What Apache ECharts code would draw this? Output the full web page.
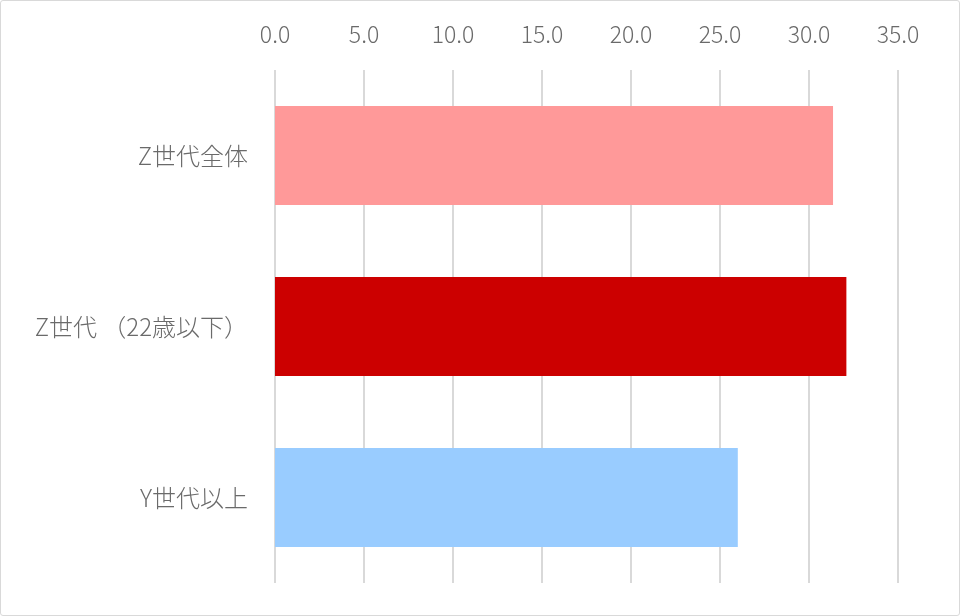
<!DOCTYPE html>
<html><head><meta charset="utf-8">
<script src="https://cdn.jsdelivr.net/npm/echarts@6/dist/echarts.min.js"></script>
<style>html,body{margin:0;padding:0;background:#fff}#c{width:960px;height:616px;box-sizing:border-box;border:1px solid #d9d9d9;border-radius:3px}</style>
</head><body><div id="c"></div>
<script>
const categories = ['Z世代全体', 'Z世代 （22歳以下）', 'Y世代以上'];
const values = [31.35, 32.1, 26.0];
const colors = ['#ff9999', '#cc0000', '#99ccff'];
const xTicks = [0, 35, 5];
const chart = echarts.init(document.getElementById('c'));
chart.setOption({
  animation: false,
  grid: {left: 274, right: 61, top: 69, bottom: 32},
  xAxis: {type: 'value', position: 'top', min: xTicks[0], max: xTicks[1], interval: xTicks[2],
    axisLine: {show: false}, axisTick: {show: false},
    splitLine: {lineStyle: {color: '#d9d9d9', width: 2}},
    axisLabel: {formatter: v => v.toFixed(1), color: '#6a6a6a', fontSize: 23, margin: 24,
      fontWeight: 300, fontFamily: 'Noto Sans CJK JP'}},
  yAxis: {type: 'category', data: categories, inverse: true,
    axisLine: {show: false}, axisTick: {show: false},
    axisLabel: {color: '#6a6a6a', fontSize: 24, margin: 27, fontWeight: 300, fontFamily: 'Noto Sans CJK JP'}},
  series: [{type: 'bar', barWidth: '58%',
    data: values.map((v, i) => ({value: v, itemStyle: {color: colors[i]}}))}]
});
</script></body></html>
